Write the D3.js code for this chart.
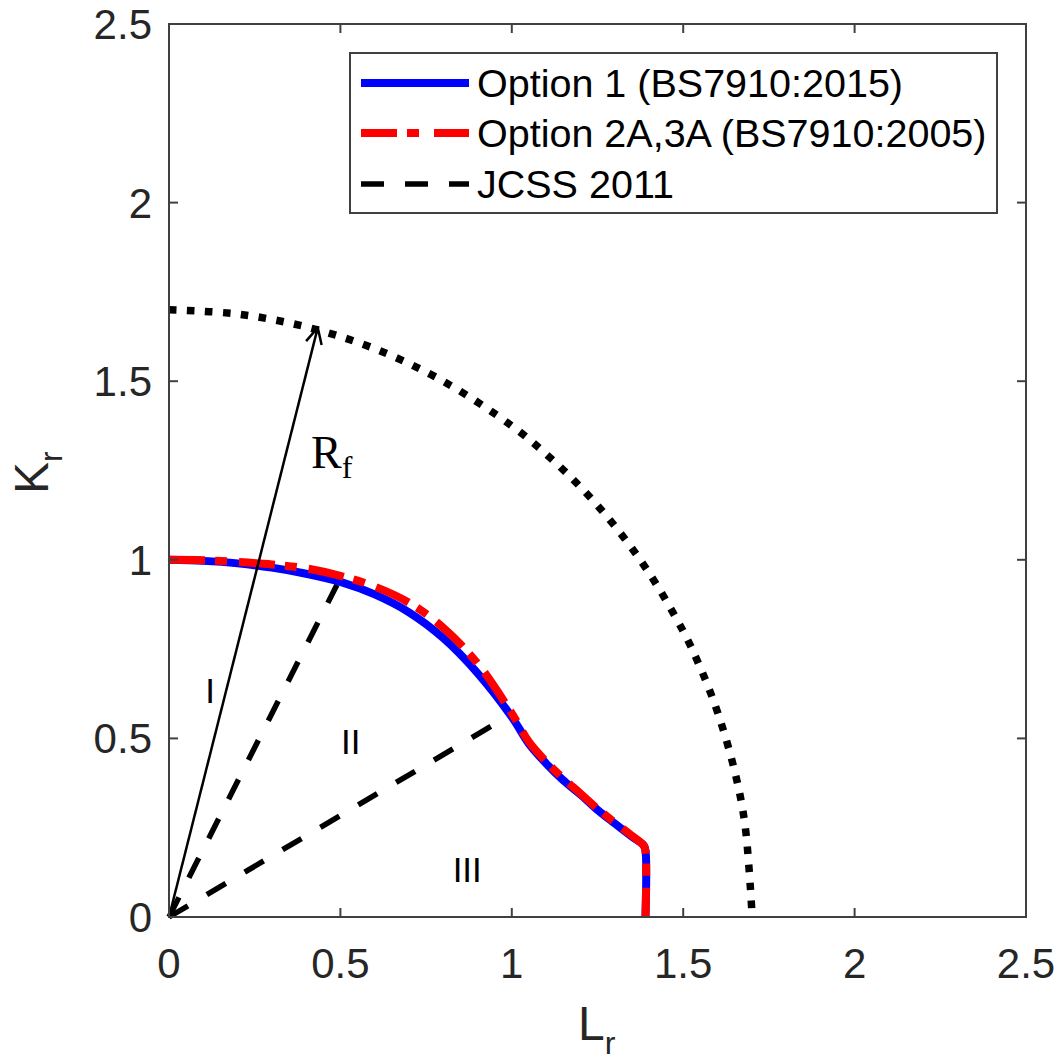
<!DOCTYPE html>
<html><head><meta charset="utf-8">
<script src="https://cdn.jsdelivr.net/npm/d3@7"></script>
<style>body{margin:0;background:#fff}svg{display:block}</style>
</head><body>
<script>
// ---- data ----
const option1Lr = [0,0.1,0.2,0.3,0.4,0.5,0.6,0.7,0.8,0.9,1.0,1.05,1.1,1.15,1.2,1.25,1.3,1.35,1.385,1.39,1.39];
const option1Kr = [1,0.997,0.99,0.978,0.961,0.938,0.903,0.853,0.781,0.683,0.56,0.485,0.43,0.383,0.343,0.3,0.262,0.225,0.2,0.185,0];
const option2Lr = [0,0.1,0.2,0.3,0.4,0.5,0.6,0.7,0.8,0.9,1.0,1.05,1.1,1.15,1.2,1.25,1.3,1.35,1.385,1.39,1.39];
const option2Kr = [1,0.999,0.994,0.987,0.976,0.955,0.925,0.88,0.81,0.71,0.57,0.49,0.435,0.388,0.346,0.303,0.265,0.228,0.2,0.185,0];
const jcssLr = [0,0.2,0.4,0.6,0.8,1.0,1.1,1.2,1.3,1.4,1.5,1.55,1.6,1.65,1.68,1.7];
const jcssKr = [1.7,1.688,1.652,1.591,1.5,1.375,1.296,1.204,1.095,0.964,0.8,0.698,0.574,0.409,0.26,0.02];
const zoneLinesLr = [[0,0.49],[0,0.98]];
const zoneLinesKr = [[0,0.93],[0,0.557]];
const arrowLr = [0,0.434];
const arrowKr = [0,1.65];
const zoneLabels = ["I","II","III"];
const zoneLabelLr = [0.12,0.53,0.87];
const zoneLabelKr = [0.6,0.455,0.097];
const ticks = [0,0.5,1,1.5,2,2.5];
const tickLabels = ["0","0.5","1","1.5","2","2.5"];
const legendNames = ["Option 1 (BS7910:2015)","Option 2A,3A (BS7910:2005)","JCSS 2011"];

const W = 1061, H = 1064;
const svg = d3.select("body").append("svg").attr("width",W).attr("height",H);
const x = d3.scaleLinear().domain([0,2.5]).range([169,1026]);
const y = d3.scaleLinear().domain([0,2.5]).range([917,24]);
const axisColor = "#404040";
const sans = "'Liberation Sans', Arial, sans-serif";

const g = svg.append("g");
const line = d3.line().x(d=>x(d[0])).y(d=>y(d[1])).curve(d3.curveCatmullRom.alpha(0.5));
const lineLin = d3.line().x(d=>x(d[0])).y(d=>y(d[1]));
const zip = (a,b)=>a.map((v,i)=>[v,b[i]]);

// zone dashed lines
zoneLinesLr.forEach((lr,i)=>{
  g.append("path").attr("d",lineLin(zip(lr,zoneLinesKr[i])))
   .attr("fill","none").attr("stroke","#000").attr("stroke-width",5.5)
   .attr("stroke-dasharray","22,22");
});

// JCSS circle (dotted)
g.append("path").attr("d",line(zip(jcssLr,jcssKr)))
  .attr("fill","none").attr("stroke","#000").attr("stroke-width",7.5)
  .attr("stroke-dasharray","7.5,10.5");

// Option 1
g.append("path").attr("d",line(zip(option1Lr,option1Kr)))
  .attr("fill","none").attr("stroke","#0000ff").attr("stroke-width",8)
  .attr("stroke-linejoin","round");
// Option 2A
g.append("path").attr("d",line(zip(option2Lr,option2Kr)))
  .attr("fill","none").attr("stroke","#ff0000").attr("stroke-width",8)
  .attr("stroke-dasharray","36,10,12,12");

// arrow
svg.append("defs").append("marker").attr("id","arr")
  .attr("viewBox","0 0 20 20").attr("refX",18).attr("refY",10)
  .attr("markerWidth",20).attr("markerHeight",20).attr("markerUnits","userSpaceOnUse")
  .attr("orient","auto")
  .append("path").attr("d","M2,2 L18,10 L2,18").attr("fill","none")
  .attr("stroke","#000").attr("stroke-width",2.5);
g.append("path").attr("d",lineLin(zip(arrowLr,arrowKr)))
  .attr("stroke","#000").attr("stroke-width",2.5).attr("fill","none")
  .attr("marker-end","url(#arr)");

// zone labels
zoneLabels.forEach((t,i)=>{
  g.append("text").attr("x",x(zoneLabelLr[i])).attr("y",y(zoneLabelKr[i]))
   .attr("text-anchor","middle").attr("font-family",sans).attr("font-size",35)
   .attr("fill","#000").text(t);
});
// R_f label
const rf = g.append("text").attr("x",311).attr("y",468)
  .attr("font-family","'Liberation Serif','Times New Roman',serif").attr("font-size",46).attr("fill","#000");
rf.append("tspan").text("R");
rf.append("tspan").attr("font-size",32).attr("dy",10).text("f");

// box
svg.append("rect").attr("x",x(0)).attr("y",y(2.5)).attr("width",x(2.5)-x(0)).attr("height",y(0)-y(2.5))
  .attr("fill","none").attr("stroke",axisColor).attr("stroke-width",2);
// ticks
const tl = 9;
ticks.forEach(t=>{
  svg.append("line").attr("x1",x(t)).attr("x2",x(t)).attr("y1",y(0)).attr("y2",y(0)-tl).attr("stroke",axisColor).attr("stroke-width",2);
  svg.append("line").attr("x1",x(t)).attr("x2",x(t)).attr("y1",y(2.5)).attr("y2",y(2.5)+tl).attr("stroke",axisColor).attr("stroke-width",2);
  svg.append("line").attr("y1",y(t)).attr("y2",y(t)).attr("x1",x(0)).attr("x2",x(0)+tl).attr("stroke",axisColor).attr("stroke-width",2);
  svg.append("line").attr("y1",y(t)).attr("y2",y(t)).attr("x1",x(2.5)).attr("x2",x(2.5)-tl).attr("stroke",axisColor).attr("stroke-width",2);
});
ticks.forEach((t,i)=>{
  svg.append("text").attr("x",x(t)).attr("y",978).attr("text-anchor","middle")
    .attr("font-family",sans).attr("font-size",42).attr("fill","#262626").text(tickLabels[i]);
  svg.append("text").attr("x",152).attr("y",y(t)+15).attr("text-anchor","end")
    .attr("font-family",sans).attr("font-size",42).attr("fill","#262626").text(tickLabels[i]);
});
// axis labels
const xl = svg.append("text").attr("x",578).attr("y",1040).attr("font-family",sans).attr("font-size",48).attr("fill","#262626");
xl.append("tspan").text("L");
xl.append("tspan").attr("font-size",32).attr("dy",14).text("r");
const yl = svg.append("text").attr("transform","translate(48,494) rotate(-90)").attr("font-family",sans).attr("font-size",48).attr("fill","#262626");
yl.append("tspan").text("K");
yl.append("tspan").attr("font-size",32).attr("dy",14).text("r");

// legend
const lg = svg.append("g");
lg.append("rect").attr("x",350).attr("y",53).attr("width",647).attr("height",160)
  .attr("fill","#fff").attr("stroke",axisColor).attr("stroke-width",2);
const legStyles = [
  {c:"#0000ff",w:8,d:null},
  {c:"#ff0000",w:8,d:"36,10,12,15"},
  {c:"#000",w:5.5,d:"23,21"}
];
const rowY = [83,133,184];
legendNames.forEach((n,i)=>{
  const l = lg.append("line").attr("x1",361).attr("x2",469).attr("y1",rowY[i]).attr("y2",rowY[i])
    .attr("stroke",legStyles[i].c).attr("stroke-width",legStyles[i].w);
  if(legStyles[i].d) l.attr("stroke-dasharray",legStyles[i].d);
  lg.append("text").attr("x",477).attr("y",rowY[i]+14).attr("font-family",sans)
    .attr("font-size",39.5).attr("fill","#000").text(n);
});
</script>
</body></html>
